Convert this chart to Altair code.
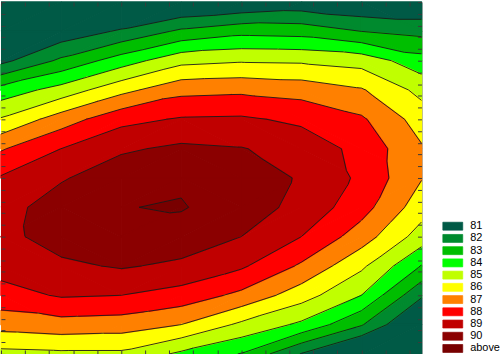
import altair as alt
import pandas as pd

# Grid positions (x to the right, y upward); each z list runs from the top row down
x_nodes = [0, 2.5, 5, 7.5, 10, 12.5, 15, 17.5]
y_nodes = [30, 27.5, 25, 22.5, 20, 17.5, 15, 12.5, 10, 7.5, 5, 2.5, 0]

# Surface values, one list per grid column
z_col0 = [76.0, 78.5, 80.7, 83.4, 85.1, 86.9, 88.1, 88.6, 88.7, 88.4, 87.6, 86.4, 84.7]
z_col1 = [78.0, 80.3, 82.2, 84.4, 86.5, 88.0, 88.9, 89.5, 89.45, 88.8, 88.1, 86.6, 84.8]
z_col2 = [79.2, 81.15, 83.5, 85.7, 87.7, 88.85, 89.6, 89.97, 89.7, 89.1, 88.0, 86.5, 84.8]
z_col3 = [79.7, 82.2, 84.7, 86.7, 88.1, 89.2, 89.85, 90.07, 89.6, 88.8, 87.6, 86.0, 83.8]
z_col4 = [80.0, 82.7, 84.9, 86.8, 88.15, 89.05, 89.55, 89.5, 89.0, 88.15, 86.75, 84.8, 82.95]
z_col5 = [80.3, 82.6, 84.85, 86.6, 87.8, 88.6, 88.9, 88.7, 88.0, 86.85, 85.45, 83.8, 80.95]
z_col6 = [80.0, 82.0, 84.6, 86.1, 87.15, 87.7, 87.8, 87.4, 86.5, 85.2, 84.0, 82.1, 79.2]
z_col7 = [80.0, 81.7, 83.4, 84.7, 85.55, 86.1, 86.05, 85.45, 84.55, 82.95, 81.15, 79.5, 77.5]
z_cols = [z_col0, z_col1, z_col2, z_col3, z_col4, z_col5, z_col6, z_col7]

levels = [81, 82, 83, 84, 85, 86, 87, 88, 89, 90]
band_labels = ["81", "82", "83", "84", "85", "86", "87", "88", "89", "90", "above"]
band_colors = ["#005a46", "#008a2e", "#00be00", "#00ff00", "#c0ff00", "#ffff00",
               "#ff8000", "#ff0000", "#c00000", "#8b0000", "#780000"]


def clip(poly, lev, keep_high):
    out = []
    n = len(poly)
    for a in range(n):
        p, q = poly[a], poly[(a + 1) % n]
        p_in = (p[2] >= lev) == keep_high
        q_in = (q[2] >= lev) == keep_high
        if p_in:
            out.append(p)
        if p_in != q_in:
            t = (lev - p[2]) / (q[2] - p[2])
            out.append((p[0] + t * (q[0] - p[0]), p[1] + t * (q[1] - p[1]), float(lev)))
    return out


def area(poly):
    s = 0.0
    for a in range(len(poly)):
        p, q = poly[a], poly[(a + 1) % len(poly)]
        s += p[0] * q[1] - q[0] * p[1]
    return abs(s) / 2


triangles = []
for i in range(len(x_nodes) - 1):
    for j in range(len(y_nodes) - 1):
        a = (x_nodes[i], y_nodes[j], z_cols[i][j])
        b = (x_nodes[i + 1], y_nodes[j], z_cols[i + 1][j])
        c = (x_nodes[i + 1], y_nodes[j + 1], z_cols[i + 1][j + 1])
        d = (x_nodes[i], y_nodes[j + 1], z_cols[i][j + 1])
        if abs(a[2] - c[2]) <= abs(b[2] - d[2]):
            triangles += [[a, b, c], [a, c, d]]
        else:
            triangles += [[a, b, d], [b, c, d]]

poly_rows = []
pid = 0
for tri in triangles:
    for k, name in enumerate(band_labels):
        piece = tri
        if k > 0:
            piece = clip(piece, levels[k - 1], True)
        if k < len(levels) and piece:
            piece = clip(piece, levels[k], False)
        if len(piece) >= 3 and area(piece) > 1e-9:
            for n, p in enumerate(piece):
                poly_rows.append({"pid": pid, "k": n, "x": p[0], "y": p[1], "band": name})
            pid += 1

seg_rows = []
for tri in triangles:
    for lev in levels:
        pts = []
        for a in range(3):
            p, q = tri[a], tri[(a + 1) % 3]
            if (p[2] >= lev) != (q[2] >= lev):
                t = (lev - p[2]) / (q[2] - p[2])
                pts.append((p[0] + t * (q[0] - p[0]), p[1] + t * (q[1] - p[1])))
        if len(pts) == 2:
            seg_rows.append({"x": pts[0][0], "y": pts[0][1], "x2": pts[1][0], "y2": pts[1][1]})

xs = alt.Scale(domain=[0, 17.5], nice=False, zero=False)
ys = alt.Scale(domain=[0, 30], nice=False, zero=False)
ax = dict(labels=False, domain=False, grid=False, tickColor="#3a3a3a", tickSize=4,
          tickWidth=1, title=None, offset=-4, zindex=2)

band_scale = alt.Scale(domain=band_labels, range=band_colors)

fills = alt.Chart(pd.DataFrame(poly_rows)).mark_line(
    filled=True, strokeWidth=1.5, strokeJoin="round", strokeOpacity=1, fillOpacity=1, opacity=1
).encode(
    x=alt.X("x:Q", scale=xs, axis=alt.Axis(orient="top", tickCount=18, **ax)),
    y=alt.Y("y:Q", scale=ys, axis=alt.Axis(orient="left", tickCount=30, **ax)),
    detail="pid:N",
    order="k:Q",
    fill=alt.Fill("band:N", scale=band_scale, legend=alt.Legend(
        title=None, orient="none", legendX=449, legendY=220,
        symbolType="M-2.5,-1H2.5V1H-2.5Z", symbolSize=64,
        symbolStrokeColor="#333333", symbolStrokeWidth=0.7, symbolOpacity=1,
        labelFont="Liberation Sans", labelFontSize=11, labelColor="#000000",
        labelOffset=12, rowPadding=0.3, padding=0)),
    stroke=alt.Stroke("band:N", scale=band_scale, legend=None),
)

lines = alt.Chart(pd.DataFrame(seg_rows)).mark_rule(
    color="#1a1a1a", strokeWidth=0.9
).encode(
    x=alt.X("x:Q", scale=xs, axis=alt.Axis(orient="bottom", tickCount=18, **ax)),
    y=alt.Y("y:Q", scale=ys, axis=alt.Axis(orient="right", tickCount=30, **ax)),
    x2="x2:Q",
    y2="y2:Q",
)

chart = alt.layer(fills, lines).resolve_axis(
    x="independent", y="independent"
).properties(
    width=423, height=354, padding=0
).configure_view(stroke="#555555", strokeWidth=1)

chart.save("out.html", embed_options={"renderer": "svg", "actions": False})
